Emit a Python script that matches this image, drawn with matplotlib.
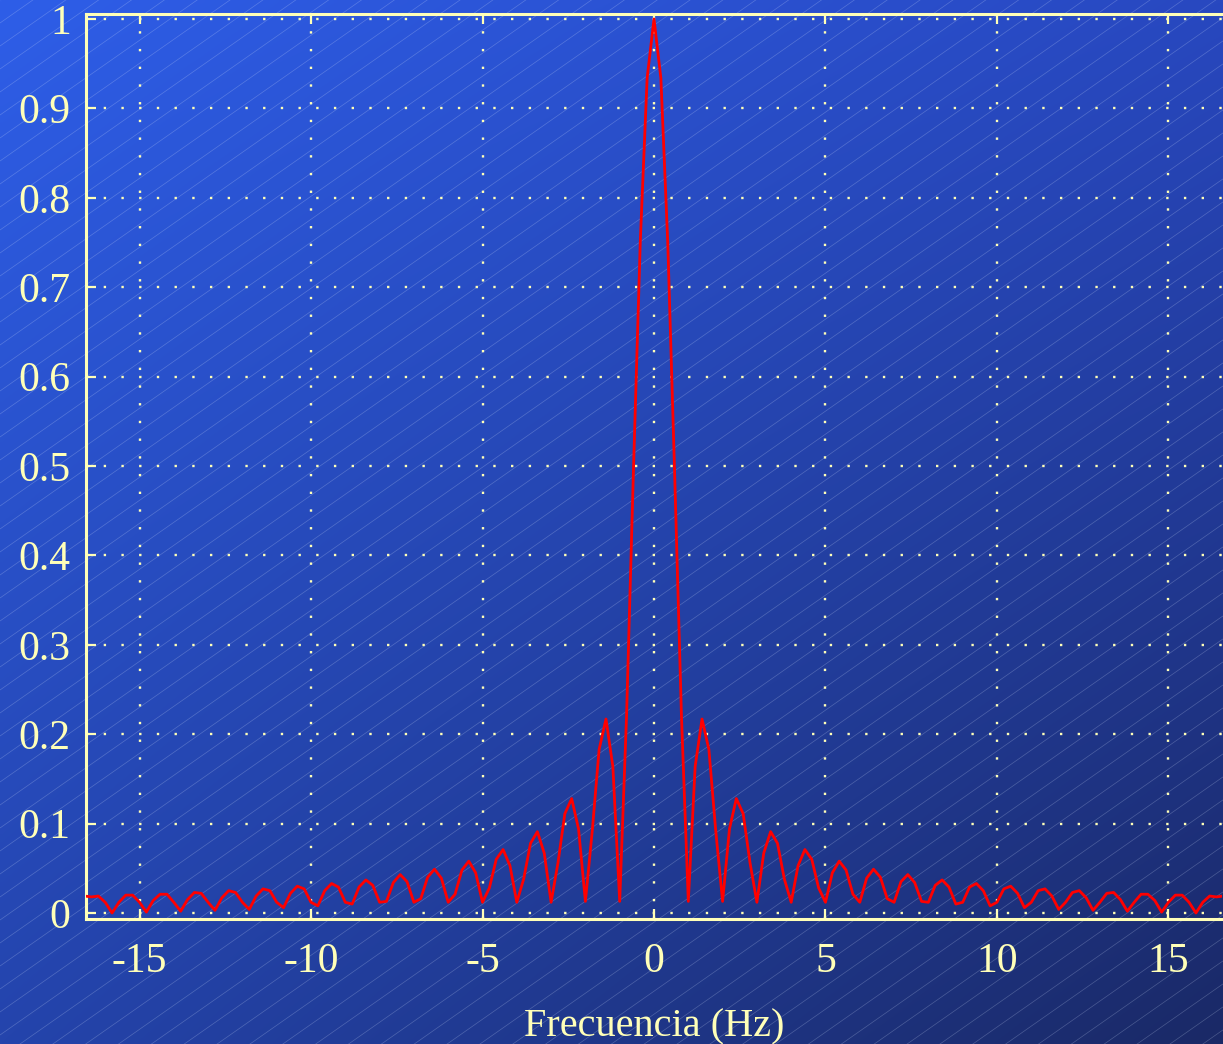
# |X(f)| spectrum plot on a blue gradient background
import numpy as np
import matplotlib
matplotlib.use('Agg')
import matplotlib.pyplot as plt
from matplotlib.collections import LineCollection

plt.rcParams['font.family'] = ['Liberation Serif', 'DejaVu Serif']
plt.rcParams['axes.unicode_minus'] = False

# sampled frequencies (Hz)
freq = [-16.6, -16.4, -16.2, -16.0, -15.8, -15.6, -15.4, -15.2, -15.0, -14.8,
        -14.6, -14.4, -14.2, -14.0, -13.8, -13.6, -13.4, -13.2, -13.0, -12.8,
        -12.6, -12.4, -12.2, -12.0, -11.8, -11.6, -11.4, -11.2, -11.0, -10.8,
        -10.6, -10.4, -10.2, -10.0, -9.8, -9.6, -9.4, -9.2, -9.0, -8.8,
        -8.6, -8.4, -8.2, -8.0, -7.8, -7.6, -7.4, -7.2, -7.0, -6.8,
        -6.6, -6.4, -6.2, -6.0, -5.8, -5.6, -5.4, -5.2, -5.0, -4.8,
        -4.6, -4.4, -4.2, -4.0, -3.8, -3.6, -3.4, -3.2, -3.0, -2.8,
        -2.6, -2.4, -2.2, -2.0, -1.8, -1.6, -1.4, -1.2, -1.0, -0.8,
        -0.6, -0.4, -0.2, 0.0, 0.2, 0.4, 0.6, 0.8, 1.0, 1.2,
        1.4, 1.6, 1.8, 2.0, 2.2, 2.4, 2.6, 2.8, 3.0, 3.2,
        3.4, 3.6, 3.8, 4.0, 4.2, 4.4, 4.6, 4.8, 5.0, 5.2,
        5.4, 5.6, 5.8, 6.0, 6.2, 6.4, 6.6, 6.8, 7.0, 7.2,
        7.4, 7.6, 7.8, 8.0, 8.2, 8.4, 8.6, 8.8, 9.0, 9.2,
        9.4, 9.6, 9.8, 10.0, 10.2, 10.4, 10.6, 10.8, 11.0, 11.2,
        11.4, 11.6, 11.8, 12.0, 12.2, 12.4, 12.6, 12.8, 13.0, 13.2,
        13.4, 13.6, 13.8, 14.0, 14.2, 14.4, 14.6, 14.8, 15.0, 15.2,
        15.4, 15.6, 15.8, 16.0, 16.2, 16.4, 16.6]

# magnitude
mag = [0.019, 0.018, 0.019, 0.012, 0.000, 0.012, 0.020, 0.020, 0.012, 0.001,
       0.014, 0.021, 0.021, 0.012, 0.002, 0.015, 0.023, 0.022, 0.012, 0.003,
       0.017, 0.025, 0.023, 0.012, 0.004, 0.019, 0.027, 0.025, 0.012, 0.006,
       0.022, 0.030, 0.027, 0.012, 0.008, 0.025, 0.033, 0.029, 0.012, 0.010,
       0.029, 0.037, 0.031, 0.012, 0.013, 0.034, 0.043, 0.035, 0.012, 0.016,
       0.040, 0.049, 0.039, 0.012, 0.021, 0.048, 0.058, 0.045, 0.012, 0.028,
       0.060, 0.071, 0.053, 0.012, 0.038, 0.078, 0.091, 0.067, 0.012, 0.056,
       0.111, 0.128, 0.094, 0.013, 0.092, 0.183, 0.217, 0.164, 0.013, 0.221,
       0.494, 0.751, 0.934, 1.000, 0.934, 0.751, 0.494, 0.221, 0.013, 0.164,
       0.217, 0.183, 0.092, 0.013, 0.094, 0.128, 0.111, 0.056, 0.012, 0.067,
       0.091, 0.078, 0.038, 0.012, 0.053, 0.071, 0.060, 0.028, 0.012, 0.045,
       0.058, 0.048, 0.021, 0.012, 0.039, 0.049, 0.040, 0.016, 0.012, 0.035,
       0.043, 0.034, 0.013, 0.012, 0.031, 0.037, 0.029, 0.010, 0.012, 0.029,
       0.033, 0.025, 0.008, 0.012, 0.027, 0.030, 0.022, 0.006, 0.012, 0.025,
       0.027, 0.019, 0.004, 0.012, 0.023, 0.025, 0.017, 0.003, 0.012, 0.022,
       0.023, 0.015, 0.002, 0.012, 0.021, 0.021, 0.014, 0.001, 0.012, 0.020,
       0.020, 0.012, 0.000, 0.012, 0.019, 0.018, 0.019]

xticks = [-15, -10, -5, 0, 5, 10, 15]
yticks = [0, 0.1, 0.2, 0.3, 0.4, 0.5, 0.6, 0.7, 0.8, 0.9, 1]
ytick_labels = ['0', '0.1', '0.2', '0.3', '0.4', '0.5', '0.6', '0.7', '0.8', '0.9', '1']

W, H = 1223, 1044
fg = '#ffffb8'   # pale yellow used for text, frame and grid

fig = plt.figure(figsize=(W / 100, H / 100), dpi=100)

# background: diagonal blue gradient + thin hatch lines
bg = fig.add_axes([0, 0, 1, 1])
bg.set_axis_off()
tl = np.array([46, 94, 232]) / 255
tr = np.array([40, 72, 192]) / 255
bl = np.array([36, 68, 172]) / 255
br = np.array([26, 41, 102]) / 255
u = np.linspace(0, 1, 300)[None, :, None]
v = np.linspace(0, 1, 260)[:, None, None]
grad = (1 - v) * ((1 - u) * tl + u * tr) + v * ((1 - u) * bl + u * br)
bg.imshow(grad, extent=(0, W, H, 0), aspect='auto', interpolation='bilinear')
slope = 0.7
segs = []
for c in np.arange(0, H + slope * W, 23):
    segs.append([(0, c), (W, c - slope * W)])
bg.add_collection(LineCollection(segs, colors=[(0.85, 0.9, 1.0, 0.25)], linewidths=0.5))
bg.set_xlim(0, W)
bg.set_ylim(H, 0)

# main axes
ax = fig.add_axes([86 / W, (H - 919) / H, (1222 - 86) / W, (919 - 14) / H])
ax.set_facecolor('none')
ax.plot(freq, mag, color='#ff0000', lw=2.0, zorder=3)

ax.set_xlim(-16.56, 16.56)
ax.set_ylim(-0.0067, 1.0056)
ax.set_xticks(xticks)
ax.set_xticklabels([str(t) for t in xticks])
ax.set_yticks(yticks)
ax.set_yticklabels(ytick_labels)

ax.grid(True, color=fg, linestyle=(0, (1, 6.5)), linewidth=1.7)
for side in ['left', 'top', 'bottom']:
    ax.spines[side].set_color(fg)
    ax.spines[side].set_linewidth(2.2)
ax.spines['right'].set_visible(False)

ax.tick_params(axis='both', direction='in', length=7, width=1.6, colors=fg,
               labelsize=30, top=True, right=False)
ax.tick_params(axis='y', pad=11)
ax.tick_params(axis='x', pad=17)
ax.set_xlabel('Frecuencia (Hz)', fontsize=29, color=fg, labelpad=20)

fig.savefig('out.png', dpi=100)
